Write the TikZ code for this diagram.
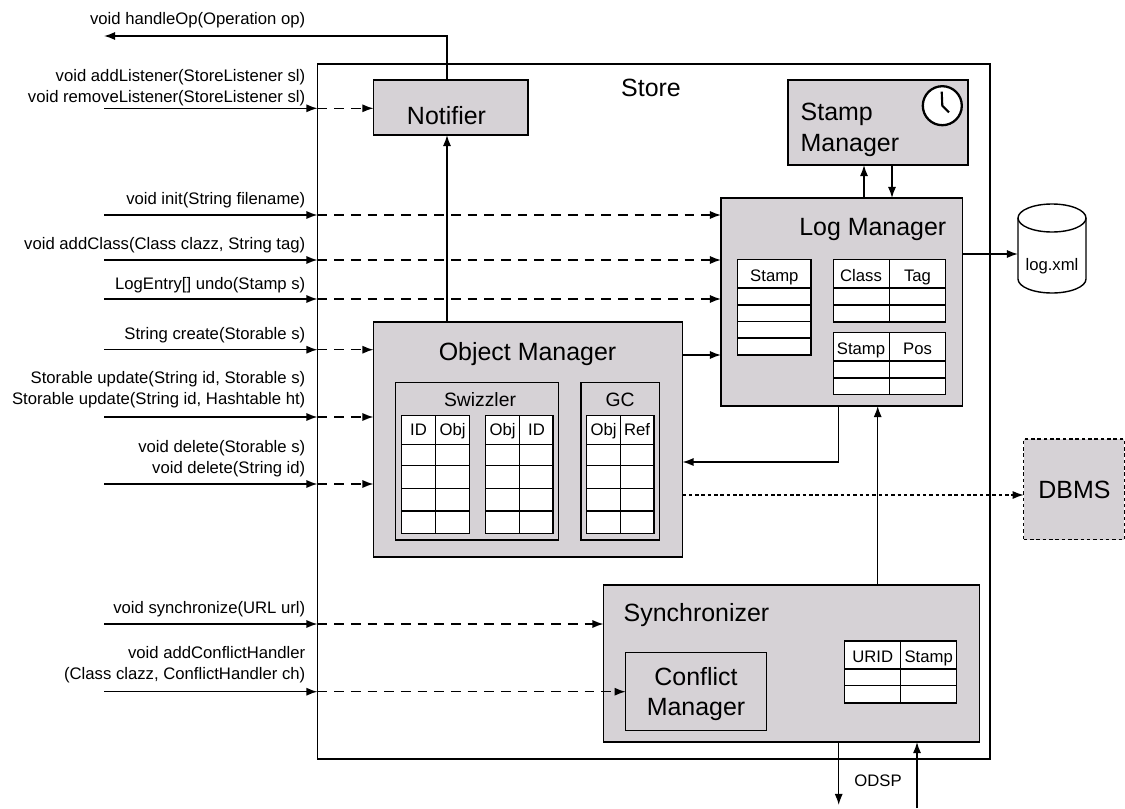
\documentclass[tikz,border=0pt]{standalone}
\usepackage{fontspec}
\setmainfont{Liberation Sans}
\usetikzlibrary{arrows.meta}
\definecolor{mgrgray}{HTML}{D6D2D6}
\newcommand{\pxu}{0.02cm}
\tikzstyle{sized}=[draw, inner sep=0pt, outer sep=0pt]
\tikzstyle{int}=[sized, fill=mgrgray]
\tikzstyle{tbl}=[sized, fill=white]
\tikzstyle{big}=[inner sep=0pt, align=center, font=\fontsize{14.2}{17.6}\selectfont]
\tikzstyle{mid}=[inner sep=0pt, font=\fontsize{11}{13}\selectfont]
\tikzstyle{sml}=[inner sep=0pt, font=\fontsize{9.5}{11.9}\selectfont]
\tikzstyle{lbl}=[sml, align=right, anchor=south east]
\tikzstyle{call}=[dash pattern=on 5.5pt off 4pt]
\tikzstyle{dots}=[dash pattern=on 2pt off 1.6pt]
\begin{document}
\begin{tikzpicture}[x=0.02cm,y=-0.02cm,line width=0.8pt,>={Latex[length=6.3pt,width=4.6pt]}]
    \useasboundingbox (0,0) rectangle (1125,808);
    % outer box
    \node [sized, minimum width=672.5*\pxu, minimum height=695*\pxu] (store) at (653.75,411.5) {};
    \node [big] (storet) at (651,88) {Store};

    % managers
    \node [int, minimum width=154.5*\pxu, minimum height=55*\pxu] (nt) at (450.75,107.5) {};
    \node [big] (ntt) at (446.5,116) {Notifier};
    \node [int, minimum width=180*\pxu, minimum height=85*\pxu] (sm) at (878,122.5) {};
    \node [big, align=left, anchor=west] (smt) at (800,130) {Stamp\\Manager};
    \node [int, minimum width=241.5*\pxu, minimum height=208*\pxu] (lm) at (841.75,302) {};
    \node [big, anchor=east] (lmt) at (947,230) {Log Manager};
    \node [int, minimum width=309*\pxu, minimum height=235*\pxu] (om) at (528,439.5) {};
    \node [big] (omt) at (527.5,354) {Object Manager};
    \node [int, minimum width=163*\pxu, minimum height=157.3*\pxu] (sw) at (477.2,461.35) {};
    \node [mid] (swt) at (480,400) {Swizzler};
    \node [int, minimum width=78.3*\pxu, minimum height=157.3*\pxu] (gc) at (620.15,461.35) {};
    \node [mid] (gct) at (620,400) {GC};
    \node [int, minimum width=376*\pxu, minimum height=157*\pxu] (sy) at (791.5,663.5) {};
    \node [big, anchor=west] (syt) at (623,615) {Synchronizer};
    \node [int, minimum width=140.6*\pxu, minimum height=78.4*\pxu] (cm) at (696,691.5) {};
    \node [big] (cmt) at (696,694) {Conflict\\Manager};
    \node [int, dots, minimum width=100.6*\pxu, minimum height=100.7*\pxu] (dbms) at (1074,489.35) {};
    \node [big] (dbmst) at (1074.5,490) {DBMS};

    % log file
    \draw [fill=white] (1018,218) -- (1018,279) arc [start angle=180, end angle=0, x radius=34, y radius=14] -- (1086,218);
    \draw [fill=white] (1052,218) ellipse [x radius=34, y radius=14];
    \node [inner sep=0pt, outer sep=0pt, minimum width=68*\pxu, minimum height=89*\pxu] (lg) at (1052,248.5) {};
    \node [sml] (lgt) at (1052,266) {log.xml};

    % clock
    \node [sized, circle, fill=white, line width=1.3pt, minimum size=39*\pxu] (clk) at (942.3,105.7) {};
    \draw [line width=1.2pt] (941.7,91.7) -- (clk.center) -- (949,112.3);

    % log tables
    \node [tbl, minimum width=73.3*\pxu, minimum height=95.3*\pxu] (tst) at (774.35,307.35) {};
    \node [sml] (tstt) at (774.35,277) {Stamp};
    \draw (tst.west |- 0,288) -- (tst.east |- 0,288);
    \draw (tst.west |- 0,305) -- (tst.east |- 0,305);
    \draw (tst.west |- 0,321.7) -- (tst.east |- 0,321.7);
    \draw (tst.west |- 0,338) -- (tst.east |- 0,338);

    \node [tbl, minimum width=112.4*\pxu, minimum height=62.3*\pxu] (tcl) at (889.5,290.85) {};
    \node [sml] (tclta) at (861,276) {Class};
    \node [sml] (tcltb) at (917.5,277) {Tag};
    \draw (tcl.north) -- (tcl.south);
    \draw (tcl.west |- 0,288) -- (tcl.east |- 0,288);
    \draw (tcl.west |- 0,305) -- (tcl.east |- 0,305);

    \node [tbl, minimum width=112.4*\pxu, minimum height=61.6*\pxu] (tsp) at (889.5,363.5) {};
    \node [sml] (tspta) at (861,350) {Stamp};
    \node [sml] (tsptb) at (917.5,349) {Pos};
    \draw (tsp.north) -- (tsp.south);
    \draw (tsp.west |- 0,361) -- (tsp.east |- 0,361);
    \draw (tsp.west |- 0,378) -- (tsp.east |- 0,378);

    % swizzler and gc tables
    \node [tbl, minimum width=67.6*\pxu, minimum height=117.6*\pxu] (tsa) at (435.5,474.5) {};
    \node [sml] (tsata) at (418.5,430) {ID};
    \node [sml] (tsatb) at (452.5,431) {Obj};
    \draw (tsa.north) -- (tsa.south);
    \draw (tsa.west |- 0,444.7) -- (tsa.east |- 0,444.7);
    \draw (tsa.west |- 0,465.7) -- (tsa.east |- 0,465.7);
    \draw (tsa.west |- 0,488.7) -- (tsa.east |- 0,488.7);
    \draw (tsa.west |- 0,511) -- (tsa.east |- 0,511);

    \node [tbl, minimum width=67.3*\pxu, minimum height=117.6*\pxu] (tsb) at (519.35,474.5) {};
    \node [sml] (tsbta) at (502.5,431) {Obj};
    \node [sml] (tsbtb) at (536.5,430) {ID};
    \draw (tsb.north) -- (tsb.south);
    \draw (tsb.west |- 0,444.7) -- (tsb.east |- 0,444.7);
    \draw (tsb.west |- 0,465.7) -- (tsb.east |- 0,465.7);
    \draw (tsb.west |- 0,488.7) -- (tsb.east |- 0,488.7);
    \draw (tsb.west |- 0,511) -- (tsb.east |- 0,511);

    \node [tbl, minimum width=67.3*\pxu, minimum height=117.6*\pxu] (tgc) at (620.35,474.5) {};
    \node [sml] (tgcta) at (603.5,431) {Obj};
    \node [sml] (tgctb) at (637,430) {Ref};
    \draw (tgc.north) -- (tgc.south);
    \draw (tgc.west |- 0,444.7) -- (tgc.east |- 0,444.7);
    \draw (tgc.west |- 0,465.7) -- (tgc.east |- 0,465.7);
    \draw (tgc.west |- 0,488.7) -- (tgc.east |- 0,488.7);
    \draw (tgc.west |- 0,511) -- (tgc.east |- 0,511);

    % synchronizer table
    \node [tbl, minimum width=112*\pxu, minimum height=62*\pxu] (tur) at (900.7,672) {};
    \node [sml] (turta) at (872.7,657) {URID};
    \node [sml] (turtb) at (928.7,658) {Stamp};
    \draw (tur.north) -- (tur.south);
    \draw (tur.west |- 0,669) -- (tur.east |- 0,669);
    \draw (tur.west |- 0,685.7) -- (tur.east |- 0,685.7);

    % calls from outside
    \node [coordinate] (hop) at (104,36) {};
    \node [lbl, anchor=base east] (hopt) at (306,24) {void handleOp(Operation op)};
    \draw[->] (nt.north -| 447,0) -- (hop -| 447,0) -- (hop);

    \node [coordinate] (lis) at (104,108.3) {};
    \node [lbl] (list) at (306,107) {void addListener(StoreListener sl)\\void removeListener(StoreListener sl)};
    \draw[->] (lis) -- (lis -| store.west);
    \draw[->,call] (lis -| store.west) -- (lis -| nt.west);

    \node [coordinate] (ini) at (104,215) {};
    \node [lbl, anchor=base east] (init) at (306,204) {void init(String filename)};
    \draw[->] (ini) -- (ini -| store.west);
    \draw[->,call] (ini -| store.west) -- (ini -| lm.west);

    \node [coordinate] (cls) at (104,260) {};
    \node [lbl, anchor=base east] (clst) at (306,249) {void addClass(Class clazz, String tag)};
    \draw[->] (cls) -- (cls -| store.west);
    \draw[->,call] (cls -| store.west) -- (cls -| lm.west);

    \node [coordinate] (und) at (104,299) {};
    \node [lbl, anchor=base east] (undt) at (306,289) {LogEntry[] undo(Stamp s)};
    \draw[->] (und) -- (und -| store.west);
    \draw[->,call] (und -| store.west) -- (und -| lm.west);

    \node [coordinate] (cre) at (104,349.7) {};
    \node [lbl, anchor=base east] (cret) at (306,339) {String create(Storable s)};
    \draw[->] (cre) -- (cre -| store.west);
    \draw[->,call] (cre -| store.west) -- (cre -| om.west);

    \node [coordinate] (upd) at (104,417) {};
    \node [lbl] (updt) at (306,409) {Storable update(String id, Storable s)\\Storable update(String id, Hashtable ht)};
    \draw[->] (upd) -- (upd -| store.west);
    \draw[->,call] (upd -| store.west) -- (upd -| om.west);

    \node [coordinate] (del) at (104,484) {};
    \node [lbl] (delt) at (306,478) {void delete(Storable s)\\void delete(String id)};
    \draw[->] (del) -- (del -| store.west);
    \draw[->,call] (del -| store.west) -- (del -| om.west);

    \node [coordinate] (syn) at (104,624) {};
    \node [lbl, anchor=base east] (synt) at (306,613) {void synchronize(URL url)};
    \draw[->] (syn) -- (syn -| store.west);
    \draw[->,call] (syn -| store.west) -- (syn -| sy.west);

    \node [coordinate] (con) at (104,691.7) {};
    \node [lbl] (cont) at (306,684) {void addConflictHandler\\(Class clazz, ConflictHandler ch)};
    \draw[->] (con) -- (con -| store.west);
    \draw[->,call] (con -| store.west) -- (con -| cm.west);

    % between the managers
    \draw[->] (om.north -| 447,0) -- (nt.south -| 447,0);
    \draw[->] (om.east |- 0,355) -- (lm.west |- 0,355);
    \draw[->] (lm.south -| 838.7,0) -- (838.7,462) -- (om.east |- 0,462);
    \draw[->] (sy.north -| 877.7,0) -- (lm.south -| 877.7,0);
    \draw[->] (lm.north -| 864,0) -- (sm.south -| 864,0);
    \draw[->] (sm.south -| 892,0) -- (lm.north -| 892,0);
    \draw[->] (lm.east |- 0,254) -- (lg.west |- 0,254);
    \draw[->,dots] (om.east |- 0,495) -- (dbms.west |- 0,495);

    % odsp
    \node [coordinate] (odo) at (838.7,805) {};
    \node [coordinate] (odi) at (917,808) {};
    \draw[->] (sy.south -| odo) -- (odo);
    \draw[->] (odi) -- (sy.south -| odi);
    \node [sml] (odt) at (878,781) {ODSP};
\end{tikzpicture}
\end{document}
